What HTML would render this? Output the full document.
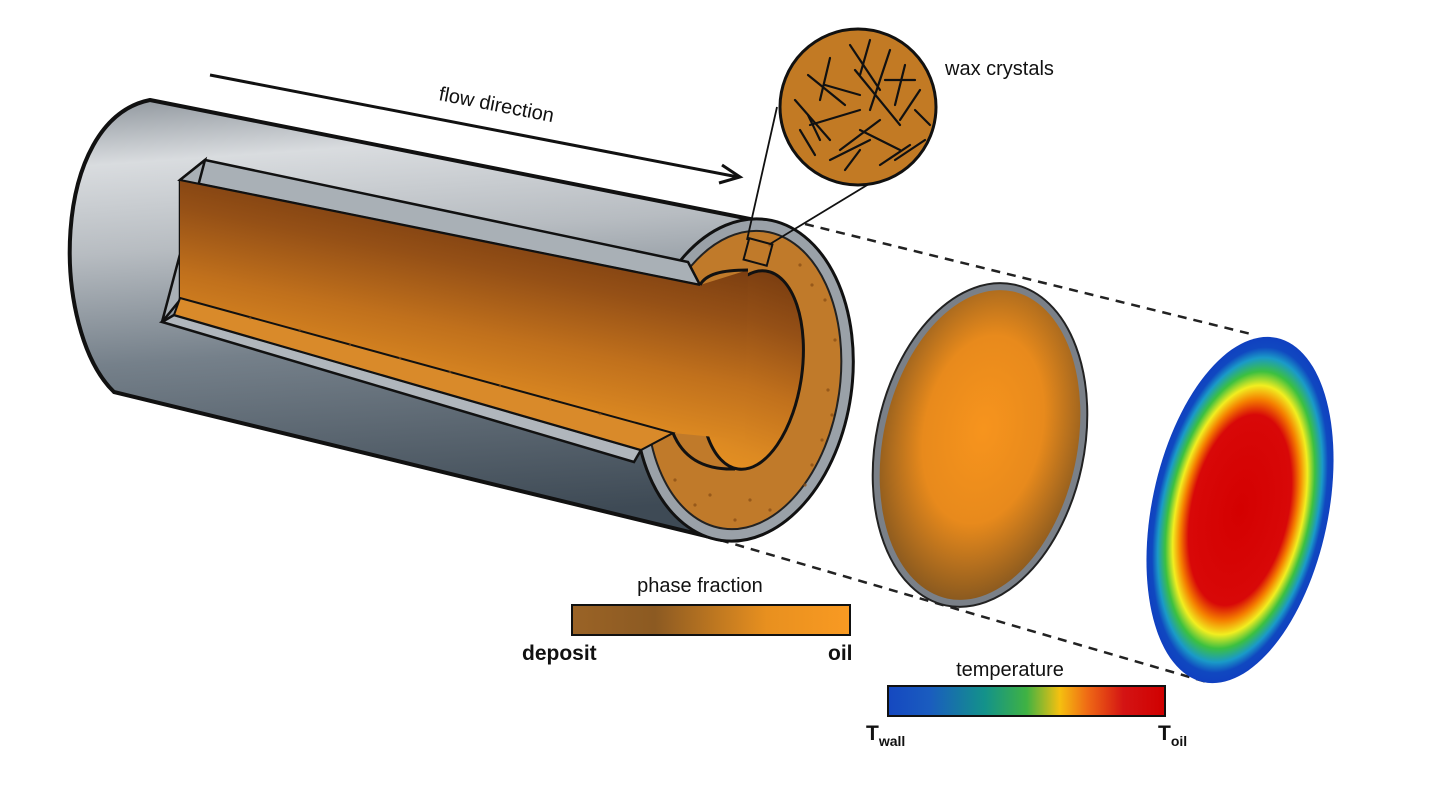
<!DOCTYPE html>
<html><head><meta charset="utf-8"><style>
html,body{margin:0;padding:0;background:#fff;}
svg{display:block;}
text{font-family:"Liberation Sans",sans-serif;fill:#111;}
</style></head><body>
<svg width="1440" height="810" viewBox="0 0 1440 810" xmlns="http://www.w3.org/2000/svg">
<defs>
<linearGradient id="pipe" x1="0" y1="0" x2="0.12" y2="1">
<stop offset="0" stop-color="#8e959c"/><stop offset="0.15" stop-color="#d9dcdf"/><stop offset="0.35" stop-color="#b7bcc1"/><stop offset="0.6" stop-color="#75808a"/><stop offset="1" stop-color="#3e4a55"/>
</linearGradient>
<linearGradient id="inner" gradientUnits="userSpaceOnUse" x1="470" y1="200" x2="420" y2="450">
<stop offset="0" stop-color="#74390f"/><stop offset="0.25" stop-color="#955016"/><stop offset="0.5" stop-color="#c0701c"/><stop offset="0.75" stop-color="#dd8a22"/><stop offset="1" stop-color="#f09a25"/>
</linearGradient>
<radialGradient id="mid" cx="0.5" cy="0.45" r="0.55">
<stop offset="0" stop-color="#f7941d"/><stop offset="0.55" stop-color="#e88a1c"/><stop offset="1" stop-color="#8b5a1f"/>
</radialGradient>
<radialGradient id="temp" cx="0.5" cy="0.5" r="0.5">
<stop offset="0" stop-color="#d40000"/><stop offset="0.55" stop-color="#d80808"/><stop offset="0.64" stop-color="#f58000"/><stop offset="0.72" stop-color="#f2ee20"/><stop offset="0.8" stop-color="#3cc040"/><stop offset="0.88" stop-color="#1a9ac8"/><stop offset="0.94" stop-color="#1048c0"/><stop offset="1" stop-color="#1040c0"/>
</radialGradient>
<linearGradient id="phase" x1="0" x2="1">
<stop offset="0" stop-color="#9a6326"/><stop offset="0.3" stop-color="#8c5a22"/><stop offset="0.7" stop-color="#e8901f"/><stop offset="1" stop-color="#f99a22"/>
</linearGradient>
<linearGradient id="tbar" x1="0" x2="1">
<stop offset="0" stop-color="#1548c0"/><stop offset="0.15" stop-color="#1a5cbf"/><stop offset="0.35" stop-color="#13928a"/><stop offset="0.5" stop-color="#3fb243"/><stop offset="0.62" stop-color="#f5c010"/><stop offset="0.72" stop-color="#ef6a15"/><stop offset="0.85" stop-color="#d41414"/><stop offset="1" stop-color="#d00000"/>
</linearGradient>
</defs>

<!-- flow arrow -->
<line x1="210" y1="75" x2="738" y2="177" stroke="#111" stroke-width="3"/>
<path d="M722,165 L740,177 L719,183" fill="none" stroke="#111" stroke-width="3"/>
<text x="438" y="100" font-size="20" transform="rotate(11 438 100)">flow direction</text>

<!-- dashed lines -->
<line x1="805" y1="224" x2="1255" y2="335" stroke="#222" stroke-width="2.5" stroke-dasharray="9,7"/>
<line x1="720" y1="540" x2="1210" y2="683" stroke="#222" stroke-width="2.5" stroke-dasharray="9,7"/>

<!-- pipe body -->
<path d="M150,100 L760,221 A108,162 8 0 1 722,540 L114,392 C50,330 50,120 150,100 Z" fill="url(#pipe)" stroke="#111" stroke-width="4"/>
<!-- end face -->
<ellipse cx="744" cy="380" rx="108" ry="162" transform="rotate(8 744 380)" fill="#9aa1a8" stroke="#111" stroke-width="3"/>
<ellipse cx="744" cy="380" rx="96" ry="150" transform="rotate(8 744 380)" fill="#c07a2a" stroke="#222" stroke-width="2"/>
<g fill="#8a4e15" opacity="0.75">
<circle cx="825" cy="300" r="1.6"/><circle cx="835" cy="340" r="1.6"/><circle cx="828" cy="390" r="1.6"/><circle cx="822" cy="440" r="1.6"/><circle cx="805" cy="485" r="1.6"/><circle cx="770" cy="510" r="1.6"/><circle cx="735" cy="520" r="1.6"/><circle cx="695" cy="505" r="1.6"/><circle cx="800" cy="265" r="1.6"/><circle cx="770" cy="245" r="1.6"/><circle cx="675" cy="480" r="1.6"/><circle cx="710" cy="495" r="1.6"/><circle cx="832" cy="415" r="1.6"/><circle cx="812" cy="465" r="1.6"/><circle cx="812" cy="285" r="1.6"/><circle cx="750" cy="500" r="1.6"/>
</g>
<!-- hole -->
<ellipse cx="752" cy="370" rx="50" ry="100" transform="rotate(8 752 370)" fill="url(#inner)" stroke="#111" stroke-width="3"/>
<!-- window bevel strips -->
<path d="M205,160 L688,262 L700,285 L180,180 Z" fill="#a9b0b6" stroke="#111" stroke-width="2.5"/>
<path d="M205,160 L180,180 L180,300 L162,322 Z" fill="#a9b0b6" stroke="#111" stroke-width="2.5"/>
<path d="M174,315 L641,450 L634,462 L162,322 Z" fill="#b0b6bc" stroke="#111" stroke-width="2.5"/>
<!-- interior -->
<path d="M180,180 L700,285 L748,270 L745,440 L673,433 L180,298 Z" fill="url(#inner)"/>
<!-- bottom deposit strip -->
<path d="M180,298 L673,433 L641,450 L174,315 Z" fill="#d98a2a" stroke="#111" stroke-width="2"/>
<g fill="#8a4e15" opacity="0.6">
<circle cx="300" cy="330" r="1.3"/><circle cx="400" cy="358" r="1.3"/><circle cx="500" cy="386" r="1.3"/><circle cx="600" cy="414" r="1.3"/><circle cx="350" cy="345" r="1.3"/><circle cx="450" cy="372" r="1.3"/><circle cx="550" cy="400" r="1.3"/><circle cx="250" cy="318" r="1.3"/>
</g>
<!-- notch lines -->
<path d="M700,285 C706,274 722,270 748,270" fill="none" stroke="#111" stroke-width="3"/>
<path d="M673,433 C682,455 700,470 735,469" fill="none" stroke="#111" stroke-width="3"/>
<line x1="180" y1="180" x2="700" y2="285" stroke="#111" stroke-width="2"/>

<!-- square + lens lines -->
<rect x="746" y="241" width="24" height="22" transform="rotate(15 758 252)" fill="none" stroke="#111" stroke-width="2"/>
<line x1="777" y1="107" x2="747" y2="240" stroke="#111" stroke-width="1.8"/>
<line x1="887" y1="173" x2="770" y2="244" stroke="#111" stroke-width="1.8"/>

<!-- magnifier -->
<circle cx="858" cy="107" r="78" fill="#c27a24" stroke="#111" stroke-width="3"/>
<g stroke="#111" stroke-width="2.2" stroke-linecap="round">
<line x1="808" y1="75" x2="845" y2="105"/><line x1="830" y1="58" x2="820" y2="100"/><line x1="850" y1="45" x2="880" y2="90"/><line x1="890" y1="50" x2="870" y2="110"/><line x1="905" y1="65" x2="895" y2="105"/>
<line x1="795" y1="100" x2="830" y2="140"/><line x1="810" y1="125" x2="860" y2="110"/><line x1="840" y1="150" x2="880" y2="120"/><line x1="860" y1="130" x2="900" y2="150"/><line x1="900" y1="120" x2="920" y2="90"/>
<line x1="830" y1="160" x2="870" y2="140"/><line x1="880" y1="165" x2="910" y2="145"/><line x1="855" y1="70" x2="900" y2="125"/><line x1="820" y1="140" x2="808" y2="115"/><line x1="845" y1="170" x2="860" y2="150"/>
<line x1="870" y1="40" x2="860" y2="75"/><line x1="915" y1="110" x2="930" y2="125"/><line x1="800" y1="130" x2="815" y2="155"/><line x1="895" y1="160" x2="925" y2="140"/><line x1="825" y1="85" x2="860" y2="95"/><line x1="885" y1="80" x2="915" y2="80"/>
</g>
<text x="945" y="75" font-size="20">wax crystals</text>

<!-- middle ellipse -->
<ellipse cx="980" cy="445" rx="104" ry="164" transform="rotate(12 980 445)" fill="#7a8088" stroke="#222" stroke-width="2"/>
<ellipse cx="980" cy="445" rx="97" ry="157" transform="rotate(12 980 445)" fill="url(#mid)"/>

<!-- temp ellipse -->
<ellipse cx="1240" cy="510" rx="88" ry="176" transform="rotate(12 1240 510)" fill="url(#temp)"/>

<!-- phase fraction bar -->
<text x="700" y="592" font-size="20" text-anchor="middle">phase fraction</text>
<rect x="572" y="605" width="278" height="30" fill="url(#phase)" stroke="#111" stroke-width="2"/>
<text x="522" y="660" font-size="21" font-weight="bold">deposit</text>
<text x="828" y="660" font-size="21" font-weight="bold">oil</text>

<!-- temperature bar -->
<text x="1010" y="676" font-size="20" text-anchor="middle">temperature</text>
<rect x="888" y="686" width="277" height="30" fill="url(#tbar)" stroke="#111" stroke-width="2"/>
<text x="866" y="740" font-size="21" font-weight="bold">T<tspan font-size="14" dy="6">wall</tspan></text>
<text x="1158" y="740" font-size="21" font-weight="bold">T<tspan font-size="14" dy="6">oil</tspan></text>
</svg>
</body></html>
